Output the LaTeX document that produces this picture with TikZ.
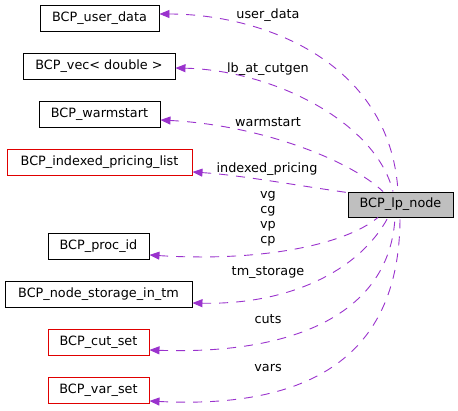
\documentclass[tikz,border=0pt]{standalone}
\usepackage{fontspec}
\setmainfont{DejaVu Sans}
\usetikzlibrary{arrows.meta}
\definecolor{edgec}{HTML}{9A32CD}
\definecolor{redb}{HTML}{E00000}
\definecolor{lpfill}{HTML}{BFBFBF}
\tikzset{
  cls/.style={draw=black, line width=0.9pt, minimum height=26pt, inner sep=0pt, font=\fontsize{12.8}{15}\selectfont},
  redcls/.style={draw=redb, line width=0.9pt, minimum height=26pt, inner sep=0pt, font=\fontsize{12.8}{15}\selectfont},
  rel/.style={draw=edgec, line width=0.9pt, dash pattern=on 9pt off 8pt, {Triangle[length=10pt,width=8pt,fill=edgec]}-},
  lbl/.style={font=\fontsize{12.8}{15}\selectfont, inner sep=0pt, align=center}
}
\begin{document}
\begin{tikzpicture}[x=1pt,y=-1pt]
\useasboundingbox (0,0) rectangle (458,411);
\node[cls, minimum width=119pt] (ud) at (99.5,18) {BCP\_user\_data};
\node[cls, minimum width=152pt] (vec) at (99,66) {BCP\_vec< double >};
\node[cls, minimum width=121pt] (ws) at (99.5,114) {BCP\_warmstart};
\node[redcls, minimum width=185pt] (ipl) at (99.5,162) {BCP\_indexed\_pricing\_list};
\node[cls, minimum width=101pt] (pid) at (98.5,246) {BCP\_proc\_id};
\node[cls, minimum width=187pt] (nst) at (98.5,294) {BCP\_node\_storage\_in\_tm};
\node[redcls, minimum width=101pt] (cs) at (98.5,342) {BCP\_cut\_set};
\node[redcls, minimum width=101pt] (vs) at (98.5,390) {BCP\_var\_set};
\node[cls, fill=lpfill, minimum width=105pt, minimum height=25pt] (lp) at (400.5,204.5) {BCP\_lp\_node};

\draw[rel] ([yshift=4pt]ud.east) .. controls (260,14) and (390,60) .. ([xshift=-2.5pt]lp.north);
\draw[rel] ([yshift=-2pt]vec.east) .. controls (270,70) and (375,120) .. ([xshift=-7.5pt]lp.north);
\draw[rel] ([yshift=-6pt]ws.east) .. controls (260,125) and (350,160) .. ([xshift=-17.5pt]lp.north);
\draw[rel] ([yshift=-10pt]ipl.east) .. controls (240,175) and (300,186) .. ([yshift=-1pt]lp.north west);
\draw[rel] ([yshift=-9pt]pid.east) .. controls (260,262) and (345,245) .. ([xshift=-22.5pt]lp.south);
\draw[rel] ([yshift=-9pt]nst.east) .. controls (290,305) and (360,270) .. ([xshift=-12.5pt]lp.south);
\draw[rel] ([yshift=-8pt]cs.east) .. controls (300,355) and (390,310) .. ([xshift=-5.5pt]lp.south);
\draw[rel] ([yshift=-11pt]vs.east) .. controls (330,410) and (400,340) .. ([xshift=-0.5pt]lp.south);

\node[lbl] (l1) at (268,15) {user\_data};
\node[lbl] (l2) at (268,69) {lb\_at\_cutgen};
\node[lbl] (l3) at (268,122) {warmstart};
\node[lbl] (l4) at (267,169) {indexed\_pricing};
\node[lbl] (l5) at (268,219) {vg\\cg\\vp\\cp};
\node[lbl] (l6) at (268,273) {tm\_storage};
\node[lbl] (l7) at (268,319) {cuts};
\node[lbl] (l8) at (268,368) {vars};
\end{tikzpicture}
\end{document}
